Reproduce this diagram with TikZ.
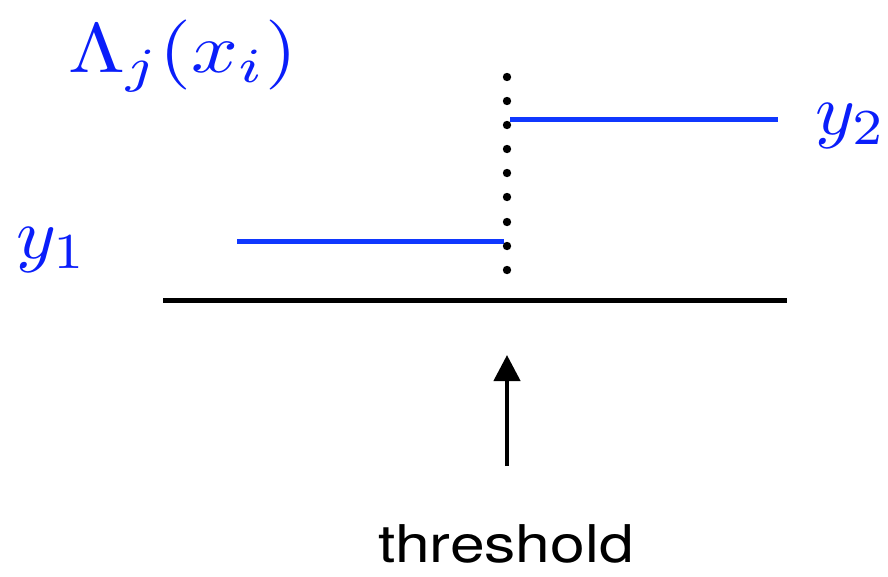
\documentclass[tikz,border=0pt]{standalone}
\usepackage{fontspec}
\newfontfamily\thrfont{TeX Gyre Heros}
\usetikzlibrary{arrows.meta}
\definecolor{lineblue}{RGB}{16,56,255}
\definecolor{textblue}{RGB}{10,30,250}
\tikzset{
  axisline/.style={line width=5pt, black},
  stepline/.style={line width=5pt, lineblue},
  dotline/.style={line width=0pt, fill=black},
  mathlabel/.style={inner sep=0pt, text=textblue},
  pointer/.style={line width=4.5pt, black, -{Triangle[width=26pt,length=26pt]}},
}
\begin{document}
\begin{tikzpicture}[x=1pt,y=-1pt]
\useasboundingbox (0,0) rectangle (888,576);
% axis
\coordinate (axL) at (163,300);
\coordinate (axR) at (787,300);
\draw[axisline] (axL) -- (axR);
% steps
\coordinate (s1a) at (237,241);
\coordinate (s1b) at (504,241);
\coordinate (s2a) at (510,119);
\coordinate (s2b) at (778,119);
\draw[stepline] (s1a) -- (s1b);
\draw[stepline] (s2a) -- (s2b);
% dotted threshold line
\foreach \yy in {77,101,125,149,173,197,222,246,270}
  \fill[black] (507,\yy) circle (4.2pt);
% labels
\node[mathlabel, anchor=base west] (lam) at (68,72) {\scalebox{8.2}[7.0]{$\Lambda_j(x_i)$}};
\node[mathlabel, anchor=base west] (y1) at (16,258) {\scalebox{7.6}[7.2]{$y_1$}};
\node[mathlabel, anchor=base west] (y2) at (815,134) {\scalebox{7.6}[7.2]{$y_2$}};
% arrow and threshold
\node[inner sep=0pt, anchor=base] (thr) at (506,562) {\scalebox{1.2}[1]{\fontsize{52}{60}\thrfont threshold}};
\coordinate (arB) at (507,466);
\coordinate (arT) at (507,355);
\draw[pointer] (arB) -- (arT);
\end{tikzpicture}
\end{document}
